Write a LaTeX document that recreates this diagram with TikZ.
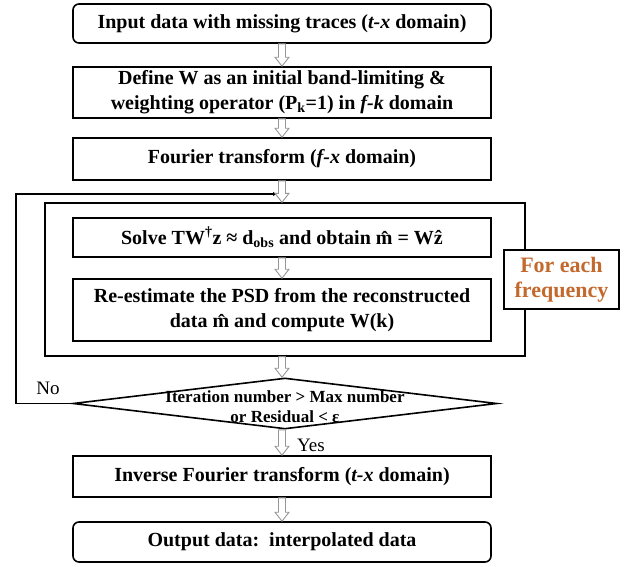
\documentclass[tikz,border=0pt]{standalone}
\usepackage{fontspec}
\setmainfont{Liberation Serif}
\usetikzlibrary{shapes.geometric,arrows.meta,calc}
\definecolor{freqorange}{RGB}{196,105,45}
\definecolor{arrgray}{RGB}{150,150,150}
\tikzset{
 box/.style={draw, line width=1.6pt, minimum width=418pt, inner sep=0pt, align=center, font=\bfseries\fontsize{20}{25}\selectfont},
 roundbox/.style={box, rounded corners=6pt},
 framebox/.style={draw, line width=1.4pt, inner sep=0pt},
 freqbox/.style={draw, line width=1.6pt, fill=white, minimum width=115pt, minimum height=59pt, inner sep=0pt, align=center, text=freqorange, font=\bfseries\fontsize{22}{25}\selectfont},
 decision/.style={diamond, draw, line width=1.6pt, minimum width=424pt, minimum height=51pt, inner sep=0pt},
 dectext/.style={align=center, inner sep=0pt, font=\bfseries\fontsize{17}{20}\selectfont},
 plainlabel/.style={inner sep=0pt, font=\fontsize{19}{22}\selectfont},
 hollow/.style={draw=arrgray, line width=0.9pt, fill=white},
 loopline/.style={draw, line width=1.2pt, -{Latex[length=5pt,width=4pt]}},
}
\newcommand\harrow[2]{\path[hollow] let \p1=(#1), \p2=(#2) in (\x1-3.5pt,\y1) -- (\x1-3.5pt,\y2+9pt) -- (\x1-7pt,\y2+9pt) -- (\x1,\y2) -- (\x1+7pt,\y2+9pt) -- (\x1+3.5pt,\y2+9pt) -- (\x1+3.5pt,\y1) -- cycle;}
\begin{document}
\begin{tikzpicture}[x=1pt,y=-1pt]
\useasboundingbox (0,0) rectangle (633,566);
\node[roundbox, minimum height=39pt] (b1) at (282,23.5) {Input data with missing traces (\textit{t-x} domain)};
\node[box, minimum height=51pt] (b2) at (282,92.5) {Define W as an initial band-limiting \&\\weighting operator (P\textsubscript{k}=1) in \textit{f-k} domain};
\node[box, minimum height=42pt] (b3) at (282,159) {Fourier transform (\textit{f-x} domain)};
\node[framebox, minimum width=480pt, minimum height=153pt] (frame) at (285,279.5) {};
\node[box, minimum height=39pt] (b4) at (282,237.5) {Solve TW\textsuperscript{†}z ≈ d\textsubscript{obs} and obtain \^{m} = W\^{z}};
\node[box, minimum height=62pt] (b5) at (282,310) {Re-estimate the PSD from the reconstructed\\data \^{m} and compute W(k)};
\node[freqbox] (freq) at (561.5,279.5) {For each\\frequency};
\node[decision] (dia) at (285,403.5) {};
\node[dectext] (dtext) at (285,407) {Iteration number > Max number\\or Residual < ε};
\node[box, minimum height=41pt] (b6) at (282,476.5) {Inverse Fourier transform (\textit{t-x} domain)};
\node[roundbox, minimum height=40pt] (b7) at (282,542) {Output data:\ \ interpolated data};
\node[plainlabel] (no) at (48,388) {No};
\node[plainlabel] (yes) at (311,445) {Yes};
\coordinate (loopx) at (16,194);
\coordinate (loopend) at (278,194);
\draw[loopline] (dia.west) -| (loopx) -- (loopend);
\harrow{b1.south}{b2.north}
\harrow{b2.south}{b3.north}
\harrow{b3.south}{frame.north}
\harrow{b4.south}{b5.north}
\harrow{b5.south |- frame.south}{dia.north -| b5.south}
\harrow{b5.south |- dia.south}{b6.north}
\harrow{b6.south}{b7.north}
\end{tikzpicture}
\end{document}
